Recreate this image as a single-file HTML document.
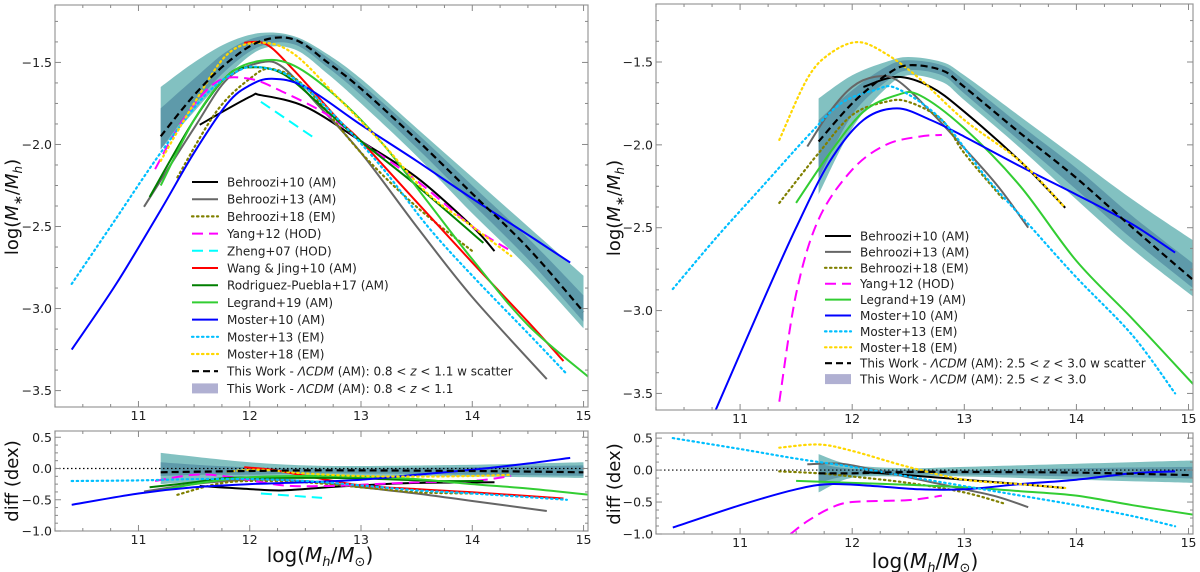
<!DOCTYPE html>
<html><head><meta charset="utf-8">
<style>
html,body{margin:0;padding:0;background:#fff;}
svg{display:block;font-family:"DejaVu Sans","Liberation Sans",sans-serif;}
</style></head>
<body>
<svg id="fig" width="1200" height="572" viewBox="0 0 1200 572" xmlns="http://www.w3.org/2000/svg"></svg>
<script>
// ===== LEFT TOP (0.8<z<1.1) =====
const LT_band_x = [11.2, 11.5, 11.8, 12.1, 12.4, 12.7, 13, 13.5, 14, 14.5, 15];
const LT_band_outerHi = [-1.65, -1.5, -1.38, -1.32, -1.34, -1.45, -1.6, -1.9, -2.2, -2.5, -2.8];
const LT_band_outerLo = [-2.03, -1.8, -1.58, -1.42, -1.42, -1.57, -1.75, -2.07, -2.42, -2.75, -3.12];
const LT_band_innerHi = [-1.78, -1.6, -1.43, -1.34, -1.35, -1.47, -1.63, -1.93, -2.25, -2.57, -2.92];
const LT_band_innerLo = [-2.03, -1.76, -1.54, -1.4, -1.39, -1.53, -1.7, -2.02, -2.36, -2.7, -3.08];
const LT_thiswork = [-1.95, -1.7, -1.5, -1.37, -1.36, -1.5, -1.66, -1.97, -2.3, -2.63, -3.02];
const LT_behroozi10 = [[11.55,-1.88],[12,-1.71],[12.1,-1.7],[12.5,-1.77],[13,-1.98],[13.5,-2.2],[14,-2.5],[14.2,-2.65]];
const LT_behroozi13 = [[11.05,-2.38],[11.5,-1.9],[11.8,-1.6],[12.1,-1.5],[12.3,-1.53],[12.6,-1.75],[13,-2.05],[13.5,-2.5],[14,-2.93],[14.67,-3.43]];
const LT_behroozi18 = [[11.35,-2.2],[11.7,-1.8],[12,-1.6],[12.2,-1.54],[12.5,-1.65],[13,-2.05],[13.5,-2.38],[14,-2.65]];
const LT_yang12 = [[11.15,-2.15],[11.4,-1.85],[11.7,-1.62],[12,-1.6],[12.3,-1.68],[12.7,-1.82],[13,-1.98],[13.5,-2.22],[14,-2.5],[14.35,-2.65]];
const LT_zheng07 = [[12.1,-1.74],[12.6,-1.97]];
const LT_wang10 = [[11.95,-1.38],[12.15,-1.39],[12.4,-1.55],[12.8,-1.85],[13,-1.98],[13.5,-2.35],[14,-2.72],[14.5,-3.08],[14.82,-3.32]];
const LT_rp17 = [[11.1,-2.32],[11.5,-1.85],[11.8,-1.58],[12,-1.53],[12.3,-1.57],[12.7,-1.8],[13,-1.98],[13.5,-2.25],[14.1,-2.6]];
const LT_legrand19 = [[11.2,-2.25],[11.5,-1.85],[11.8,-1.58],[12.1,-1.49],[12.4,-1.52],[12.8,-1.72],[13.2,-2.0],[13.6,-2.35],[14,-2.7],[14.5,-3.1],[15.05,-3.42]];
const LT_moster10 = [[10.4,-3.25],[10.8,-2.85],[11.2,-2.4],[11.5,-2.05],[11.8,-1.75],[12,-1.64],[12.2,-1.6],[12.5,-1.65],[13,-1.88],[13.5,-2.1],[14,-2.33],[14.5,-2.55],[14.88,-2.72]];
const LT_moster13 = [[10.4,-2.85],[10.8,-2.45],[11.2,-2.05],[11.6,-1.7],[11.9,-1.55],[12.1,-1.53],[12.4,-1.6],[12.8,-1.85],[13.2,-2.15],[13.6,-2.5],[14,-2.8],[14.5,-3.15],[14.85,-3.4]];
const LT_moster18 = [[11.2,-2.1],[11.5,-1.75],[11.8,-1.45],[12.1,-1.38],[12.4,-1.45],[12.8,-1.72],[13.2,-2.0],[13.6,-2.3],[14,-2.5],[14.35,-2.68]];
// ===== LEFT BOTTOM (diff) =====
const LB_band_x = [11.2, 11.6, 12, 12.5, 13, 14, 15];
const LB_band_outerHi = [0.25, 0.17, 0.1, 0.05, 0.04, 0.06, 0.1];
const LB_band_outerLo = [-0.25, -0.2, -0.15, -0.12, -0.12, -0.13, -0.15];
const LB_band_innerHi = [0.1, 0.05, 0.02, 0.0, 0.0, 0.02, 0.05];
const LB_band_innerLo = [-0.12, -0.1, -0.1, -0.08, -0.08, -0.1, -0.12];
const LB_thiswork = [-0.06, -0.05, -0.04, -0.03, -0.03, -0.04, -0.06];
const LB_behroozi10 = [[11.55,-0.28],[12,-0.33],[12.3,-0.35],[12.7,-0.3],[13,-0.27],[13.5,-0.23],[14.2,-0.22]];
const LB_behroozi13 = [[11.05,-0.37],[11.5,-0.25],[12,-0.18],[12.5,-0.2],[13,-0.3],[13.5,-0.4],[14,-0.52],[14.67,-0.68]];
const LB_behroozi18 = [[11.35,-0.42],[11.7,-0.25],[12,-0.2],[12.5,-0.22],[13,-0.3],[13.5,-0.38],[14,-0.4]];
const LB_yang12 = [[11.15,-0.2],[11.5,-0.1],[11.8,-0.13],[12.3,-0.27],[12.7,-0.28],[13,-0.26],[13.5,-0.22],[14,-0.2],[14.35,-0.12]];
const LB_zheng07 = [[12.1,-0.4],[12.65,-0.47]];
const LB_wang10 = [[11.95,0.02],[12.2,-0.02],[12.6,-0.15],[13,-0.27],[13.5,-0.33],[14,-0.38],[14.82,-0.48]];
const LB_rp17 = [[11.1,-0.3],[11.5,-0.22],[11.8,-0.15],[12.2,-0.15],[12.7,-0.15],[13.2,-0.17],[13.7,-0.2],[14.1,-0.2]];
const LB_legrand19 = [[11.2,-0.35],[11.6,-0.22],[12,-0.14],[12.5,-0.12],[13,-0.13],[13.5,-0.17],[14,-0.25],[14.5,-0.32],[15.05,-0.42]];
const LB_moster10 = [[10.4,-0.58],[11,-0.4],[11.5,-0.3],[12,-0.25],[12.5,-0.22],[13,-0.18],[13.5,-0.1],[14,-0.02],[14.5,0.08],[14.88,0.17]];
const LB_moster13 = [[10.4,-0.2],[11,-0.19],[11.5,-0.17],[12,-0.17],[12.5,-0.2],[13,-0.27],[13.5,-0.35],[14,-0.4],[14.85,-0.5]];
const LB_moster18 = [[11.8,-0.05],[12.1,-0.02],[12.5,-0.08],[13,-0.12],[13.5,-0.13],[14,-0.12],[14.35,-0.1]];
// ===== RIGHT TOP (2.5<z<3.0) =====
const RT_band_x = [11.7, 12, 12.3, 12.5, 12.8, 13, 13.5, 14, 14.5, 15.05];
const RT_band_outerHi = [-1.72, -1.58, -1.5, -1.47, -1.5, -1.58, -1.83, -2.08, -2.33, -2.58];
const RT_band_outerLo = [-2.3, -1.9, -1.66, -1.58, -1.62, -1.73, -2.02, -2.33, -2.63, -2.92];
const RT_band_innerHi = [-1.85, -1.67, -1.53, -1.49, -1.52, -1.61, -1.88, -2.14, -2.43, -2.72];
const RT_band_innerLo = [-2.2, -1.82, -1.62, -1.55, -1.58, -1.69, -1.98, -2.27, -2.57, -2.87];
const RT_thiswork = [-1.98, -1.75, -1.58, -1.52, -1.55, -1.65, -1.93, -2.2, -2.5, -2.82];
const RT_behroozi10 = [[12.1,-1.65],[12.4,-1.59],[12.7,-1.65],[13,-1.8],[13.5,-2.1],[13.9,-2.38]];
const RT_behroozi13 = [[11.6,-2.01],[11.8,-1.8],[12,-1.65],[12.2,-1.59],[12.4,-1.61],[12.7,-1.8],[13,-2.02],[13.3,-2.25],[13.57,-2.5]];
const RT_behroozi18 = [[11.35,-2.35],[11.7,-2.05],[12,-1.82],[12.3,-1.74],[12.5,-1.74],[12.8,-1.85],[13,-2.05],[13.35,-2.33]];
const RT_yang12 = [[11.35,-3.55],[11.5,-2.9],[11.7,-2.45],[12,-2.15],[12.3,-2.0],[12.6,-1.95],[12.8,-1.94]];
const RT_legrand19 = [[11.5,-2.35],[11.8,-2.05],[12.1,-1.8],[12.4,-1.7],[12.6,-1.7],[13,-1.9],[13.5,-2.25],[14,-2.7],[14.5,-3.05],[15.05,-3.45]];
const RT_moster10 = [[10.75,-3.65],[11.2,-2.95],[11.5,-2.5],[11.8,-2.1],[12.1,-1.85],[12.4,-1.78],[12.7,-1.85],[13,-1.95],[13.5,-2.13],[14,-2.3],[14.5,-2.48],[14.88,-2.65]];
const RT_moster13 = [[10.4,-2.87],[10.8,-2.55],[11.2,-2.25],[11.6,-1.95],[11.9,-1.75],[12.2,-1.67],[12.4,-1.66],[12.8,-1.85],[13.2,-2.2],[13.6,-2.5],[14,-2.8],[14.5,-3.15],[14.88,-3.5]];
const RT_moster18 = [[11.35,-1.97],[11.6,-1.6],[11.8,-1.45],[12.05,-1.38],[12.3,-1.45],[12.6,-1.6],[13,-1.85],[13.5,-2.1],[13.9,-2.38]];
// ===== RIGHT BOTTOM (diff) =====
const RB_band_x = [11.7, 12, 12.5, 13, 14, 15.05];
const RB_band_outerHi = [0.25, 0.08, 0.03, 0.05, 0.1, 0.15];
const RB_band_outerLo = [-0.35, -0.12, -0.1, -0.1, -0.15, -0.2];
const RB_band_innerHi = [0.1, 0.02, 0.0, 0.0, 0.03, 0.05];
const RB_band_innerLo = [-0.2, -0.08, -0.07, -0.07, -0.1, -0.13];
const RB_thiswork = [-0.05, -0.05, -0.03, -0.03, -0.04, -0.08];
const RB_behroozi10 = [[12.1,-0.03],[12.5,-0.08],[13,-0.15],[13.5,-0.22],[13.9,-0.28]];
const RB_behroozi13 = [[11.6,0.09],[11.9,0.1],[12.2,0.0],[12.6,-0.15],[13,-0.3],[13.3,-0.42],[13.57,-0.58]];
const RB_behroozi18 = [[11.35,-0.02],[11.7,-0.05],[12,-0.1],[12.5,-0.2],[13,-0.35],[13.35,-0.52]];
const RB_yang12 = [[11.45,-1.0],[11.6,-0.8],[11.8,-0.6],[12,-0.5],[12.5,-0.47],[12.8,-0.4]];
const RB_legrand19 = [[11.5,-0.17],[12,-0.2],[12.5,-0.23],[13,-0.27],[13.5,-0.33],[14,-0.4],[14.5,-0.55],[15.05,-0.7]];
const RB_moster10 = [[10.4,-0.9],[11,-0.55],[11.5,-0.3],[11.8,-0.22],[12.2,-0.25],[12.6,-0.3],[13,-0.3],[13.5,-0.22],[14,-0.15],[14.5,-0.05],[14.88,-0.02]];
const RB_moster13 = [[10.4,0.5],[11,0.33],[11.5,0.18],[12,0.05],[12.5,-0.1],[13,-0.25],[13.5,-0.4],[14,-0.55],[14.5,-0.72],[14.88,-0.88]];
const RB_moster18 = [[11.35,0.35],[11.7,0.4],[12,0.3],[12.5,0.05],[13,-0.15],[13.5,-0.22],[13.9,-0.28]];

const xTicks = [11, 12, 13, 14, 15];
const topYTicks = [-1.5, -2.0, -2.5, -3.0, -3.5];
const botYTicks = [0.5, 0.0, -0.5, -1.0];
const legendLeft = ["Behroozi+10 (AM)","Behroozi+13 (AM)","Behroozi+18 (EM)","Yang+12 (HOD)","Zheng+07 (HOD)","Wang & Jing+10 (AM)","Rodriguez-Puebla+17 (AM)","Legrand+19 (AM)","Moster+10 (AM)","Moster+13 (EM)","Moster+18 (EM)"];
const legendRight = ["Behroozi+10 (AM)","Behroozi+13 (AM)","Behroozi+18 (EM)","Yang+12 (HOD)","Legrand+19 (AM)","Moster+10 (AM)","Moster+13 (EM)","Moster+18 (EM)"];

const NS = "http://www.w3.org/2000/svg";
const svg = document.getElementById('fig');
function mk(tag, attrs, parent) {
  const e = document.createElementNS(NS, tag);
  for (const k in attrs) e.setAttribute(k, attrs[k]);
  (parent || svg).appendChild(e);
  return e;
}
const STY = {
  behroozi10: {stroke:'#000000', w:2},
  behroozi13: {stroke:'#666666', w:2},
  behroozi18: {stroke:'#808000', w:2.2, dash:'1.5,3.5', cap:'round'},
  yang12: {stroke:'#ff00ff', w:2, dash:'11,6'},
  zheng07: {stroke:'#00ffff', w:2, dash:'11,6'},
  wang10: {stroke:'#ff0000', w:2},
  rp17: {stroke:'#007f00', w:2},
  legrand19: {stroke:'#32cd32', w:2},
  moster10: {stroke:'#0000ff', w:2},
  moster13: {stroke:'#00bfff', w:2.2, dash:'1.5,3.5', cap:'round'},
  moster18: {stroke:'#ffd700', w:2.2, dash:'1.5,3.5', cap:'round'},
  thiswork: {stroke:'#000000', w:2.2, dash:'7,4'}
};
function smoothPath(pts) {
  if (pts.length < 3) return 'M' + pts.map(p => p[0].toFixed(1) + ',' + p[1].toFixed(1)).join('L');
  let d = 'M' + pts[0][0].toFixed(1) + ',' + pts[0][1].toFixed(1);
  for (let i = 0; i < pts.length - 1; i++) {
    const p0 = pts[Math.max(0, i-1)], p1 = pts[i], p2 = pts[i+1], p3 = pts[Math.min(pts.length-1, i+2)];
    const c1 = [p1[0] + (p2[0]-p0[0])/6, p1[1] + (p2[1]-p0[1])/6];
    const c2 = [p2[0] - (p3[0]-p1[0])/6, p2[1] - (p3[1]-p1[1])/6];
    d += 'C' + c1[0].toFixed(1)+','+c1[1].toFixed(1)+' '+c2[0].toFixed(1)+','+c2[1].toFixed(1)+' '+p2[0].toFixed(1)+','+p2[1].toFixed(1);
  }
  return d;
}
let clipN = 0;
function panel(cfg) {
  const {name, x0, x1, y0, y1, xmin, xmax, ymin, ymax} = cfg;
  const sx = v => x0 + (v - xmin) / (xmax - xmin) * (x1 - x0);
  const sy = v => y1 - (v - ymin) / (ymax - ymin) * (y1 - y0);
  const g = mk('g', {});
  
  
  const cid = 'clip' + (clipN++);
  const cp = mk('clipPath', {id: cid}, g);
  mk('rect', {x: x0, y: y0, width: x1-x0, height: y1-y0}, cp);
  const plot = mk('g', {'clip-path': 'url(#' + cid + ')'}, g);
  const b = cfg.band;
  const bandPoly = (hi, lo) => {
    const top = b.x.map((v,i) => [sx(v), sy(hi[i])]);
    const bot = b.x.map((v,i) => [sx(v), sy(lo[i])]).reverse();
    return smoothPath(top) + 'L' + smoothPath(bot).slice(1) + 'Z';
  };
  const ob = mk('path', {d: bandPoly(b.outerHi, b.outerLo), fill: '#82c1c1', stroke: 'none'}, plot);
  
  
  const ib = mk('path', {d: bandPoly(b.innerHi, b.innerLo), fill: '#5e9aaa', stroke: 'none'}, plot);
  
  
  if (cfg.zeroLine) {
    const z = mk('line', {x1: x0, x2: x1, y1: sy(0), y2: sy(0), stroke: '#000', 'stroke-width': 1.2, 'stroke-dasharray': '1.5,2.5'}, plot);
    
    
  }
  for (const s of cfg.series) {
    const st = STY[s.key];
    const p = mk('path', {d: smoothPath(s.data.map(q => [sx(q[0]), sy(q[1])])), fill: 'none', stroke: st.stroke, 'stroke-width': st.w, 'stroke-linecap': st.cap || 'butt'}, plot);
    if (st.dash) p.setAttribute('stroke-dasharray', st.dash);
    
    
  }
  const tw = mk('path', {d: smoothPath(b.x.map((v,i) => [sx(v), sy(b.center[i])])), fill: 'none', stroke: '#000', 'stroke-width': 2.2, 'stroke-dasharray': '7,4'}, plot);
  
  
  const fr = mk('rect', {x: x0, y: y0, width: x1-x0, height: y1-y0, fill: 'none', stroke: '#999', 'stroke-width': 1.2}, g);
  
  
  const tk = mk('g', {stroke: '#888', 'stroke-width': 1}, g);
  for (let v = Math.ceil(xmin*4)/4; v <= xmax + 1e-9; v += 0.25) {
    const major = Math.abs(v - Math.round(v)) < 1e-6;
    const L = major ? 6 : 3, X = sx(v);
    mk('line', {x1: X, x2: X, y1: y1, y2: y1 - L}, tk);
    mk('line', {x1: X, x2: X, y1: y0, y2: y0 + L}, tk);
  }
  const ystep = cfg.minorY;
  for (let v = Math.ceil(ymin/ystep)*ystep; v <= ymax + 1e-9; v += ystep) {
    const major = Math.abs(v/0.5 - Math.round(v/0.5)) < 1e-6;
    const L = major ? 6 : 3, Y = sy(v);
    mk('line', {x1: x0, x2: x0 + L, y1: Y, y2: Y}, tk);
    mk('line', {x1: x1, x2: x1 - L, y1: Y, y2: Y}, tk);
  }
  for (const v of xTicks) {
    const t = mk('text', {x: sx(v), y: y1 + 13, 'text-anchor': 'middle', 'font-size': 12.5, fill: '#222'}, g);
    t.textContent = String(v);
    
    
  }
  for (const v of cfg.yTicks) {
    const t = mk('text', {x: x0 - 3, y: sy(v) + 4.5, 'text-anchor': 'end', 'font-size': 12.5, fill: '#222'}, g);
    t.textContent = (v < 0 ? '\u2212' : '') + Math.abs(v).toFixed(1);
    
    
  }
  return {sx, sy};
}
function seriesList(pfx, keys) {
  return keys.map(k => ({key: k, data: eval(pfx + k)}));
}
const leftKeys = ['behroozi10','behroozi13','behroozi18','yang12','zheng07','wang10','rp17','legrand19','moster10','moster13','moster18'];
const rightKeys = ['behroozi10','behroozi13','behroozi18','yang12','legrand19','moster10','moster13','moster18'];

panel({name:'left-top-panel', x0:55, x1:588, y0:5, y1:407, xmin:10.25, xmax:15.04, ymin:-3.6, ymax:-1.15, minorY:0.125, yTicks: topYTicks,
  band:{x:LT_band_x, outerHi:LT_band_outerHi, outerLo:LT_band_outerLo, innerHi:LT_band_innerHi, innerLo:LT_band_innerLo, center:LT_thiswork},
  series: seriesList('LT_', leftKeys)});
panel({name:'left-diff-panel', x0:55, x1:588, y0:431, y1:531, xmin:10.25, xmax:15.04, ymin:-1.0, ymax:0.6, minorY:0.125, yTicks: botYTicks, zeroLine:true,
  band:{x:LB_band_x, outerHi:LB_band_outerHi, outerLo:LB_band_outerLo, innerHi:LB_band_innerHi, innerLo:LB_band_innerLo, center:LB_thiswork},
  series: seriesList('LB_', leftKeys)});
panel({name:'right-top-panel', x0:656, x1:1193, y0:4, y1:410, xmin:10.25, xmax:15.04, ymin:-3.6, ymax:-1.15, minorY:0.125, yTicks: topYTicks,
  band:{x:RT_band_x, outerHi:RT_band_outerHi, outerLo:RT_band_outerLo, innerHi:RT_band_innerHi, innerLo:RT_band_innerLo, center:RT_thiswork},
  series: seriesList('RT_', rightKeys)});
panel({name:'right-diff-panel', x0:656, x1:1193, y0:433, y1:534, xmin:10.25, xmax:15.04, ymin:-1.0, ymax:0.58, minorY:0.125, yTicks: botYTicks, zeroLine:true,
  band:{x:RB_band_x, outerHi:RB_band_outerHi, outerLo:RB_band_outerLo, innerHi:RB_band_innerHi, innerLo:RB_band_innerLo, center:RB_thiswork},
  series: seriesList('RB_', rightKeys)});

function legend(name, lx, ly, dy, labels, keys, twLabel, bandLabel) {
  const g = mk('g', {});
  
  
  const all = labels.concat([twLabel, bandLabel]);
  all.forEach((lab, i) => {
    const y = ly + i * dy;
    const e = mk('g', {}, g);
    
    
    if (i < labels.length) {
      const st = STY[keys[i]];
      const l = mk('line', {x1: lx, x2: lx + 26, y1: y, y2: y, stroke: st.stroke, 'stroke-width': st.w, 'stroke-linecap': st.cap || 'butt'}, e);
      if (st.dash) l.setAttribute('stroke-dasharray', st.dash);
    } else if (i === labels.length) {
      mk('line', {x1: lx, x2: lx + 26, y1: y, y2: y, stroke: '#000', 'stroke-width': 2.2, 'stroke-dasharray': '7,4'}, e);
    } else {
      mk('rect', {x: lx, y: y - 5, width: 26, height: 10, fill: '#b0b0d2'}, e);
    }
    const t = mk('text', {x: lx + 35, y: y + 4.5, 'font-size': 12, fill: '#222'}, e);
    t.innerHTML = lab;
  });
}
legend('legend-left', 192, 182, 17.2, legendLeft, leftKeys,
  'This Work - <tspan font-style="italic">ΛCDM</tspan> (AM): 0.8 &lt; <tspan font-style="italic">z</tspan> &lt; 1.1 w scatter',
  'This Work - <tspan font-style="italic">ΛCDM</tspan> (AM): 0.8 &lt; <tspan font-style="italic">z</tspan> &lt; 1.1');
legend('legend-right', 825, 236, 15.9, legendRight, rightKeys,
  'This Work - <tspan font-style="italic">ΛCDM</tspan> (AM): 2.5 &lt; <tspan font-style="italic">z</tspan> &lt; 3.0 w scatter',
  'This Work - <tspan font-style="italic">ΛCDM</tspan> (AM): 2.5 &lt; <tspan font-style="italic">z</tspan> &lt; 3.0');

function axisLabel(name, x, y, rot, html, size) {
  const t = mk('text', {x: x, y: y, 'text-anchor': 'middle', 'font-size': size, fill: '#111', transform: rot ? 'rotate(-90 ' + x + ' ' + y + ')' : ''});
  t.innerHTML = html;
  
  
}
const yLab = 'log(<tspan font-style="italic">M</tspan><tspan font-size="12" dy="4">∗</tspan><tspan dy="-4">/</tspan><tspan font-style="italic">M</tspan><tspan font-size="12" font-style="italic" dy="4">h</tspan><tspan dy="-4">)</tspan>';
const xLab = 'log(<tspan font-style="italic">M</tspan><tspan font-size="13" font-style="italic" dy="4">h</tspan><tspan dy="-4">/</tspan><tspan font-style="italic">M</tspan><tspan font-size="13" dy="4">⊙</tspan><tspan dy="-4">)</tspan>';
axisLabel('left-y-axis-title', 18, 207, true, yLab, 18);
axisLabel('right-y-axis-title', 620, 208, true, yLab, 18);
axisLabel('left-diff-y-axis-title', 18, 481, true, 'diff (dex)', 18);
axisLabel('right-diff-y-axis-title', 620, 484, true, 'diff (dex)', 18);
axisLabel('left-x-axis-title', 320, 562, false, xLab, 20);
axisLabel('right-x-axis-title', 925, 568, false, xLab, 20);
</script>
</body></html>
